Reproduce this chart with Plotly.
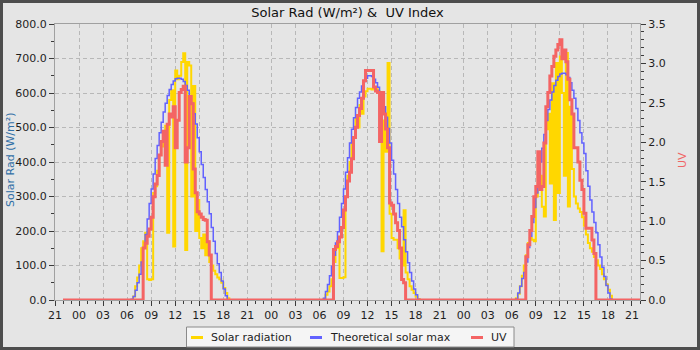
import pandas as pd
import plotly.graph_objects as go

# ---------------------------------------------------------------------------
# Data: three days of 15-minute readings, daylight window 06:00-18:45.
# Night-time readings are zero.
# ---------------------------------------------------------------------------
DAYS = ["2024-03-12", "2024-03-13", "2024-03-14"]
DAYLIGHT_START = "06:00"
SLOT = "15min"
SERIES_START = "2024-03-11 22:00"
SERIES_END = "2024-03-14 22:00"
AXIS_START = "2024-03-11 21:00"
AXIS_END = "2024-03-14 22:00"

# Solar radiation (W/m²)
solar_day1 = [0, 0, 0, 10, 40, 65, 100, 150, 170, 195,
              60, 58, 60, 310, 330, 375, 420, 445, 475, 505,
              195, 580, 608, 155, 665, 640, 650, 690, 715, 145,
              690, 680, 300, 620, 200, 290, 180, 150, 190, 130,
              170, 110, 100, 85, 75, 65, 60, 50, 35, 20,
              5, 0]
solar_day2 = [0, 0, 3, 15, 25, 40, 60, 110, 150, 165,
              64, 64, 66, 300, 360, 400, 455, 470, 525, 500,
              565, 540, 590, 605, 612, 612, 610, 612, 612, 605,
              590, 141, 520, 430, 687, 250, 180, 175, 175, 150,
              120, 100, 260, 80, 60, 40, 30, 20, 10, 3,
              0, 0]
solar_day3 = [0, 0, 5, 18, 40, 70, 100, 130, 165, 180,
              175, 170, 300, 400, 360, 270, 242, 495, 540, 338,
              628, 232, 687, 310, 706, 600, 360, 716, 271, 560,
              380, 300, 280, 265, 255, 240, 215, 190, 165, 150,
              140, 125, 115, 100, 90, 75, 60, 45, 30, 12,
              0, 0]

# Theoretical clear-sky maximum (W/m²)
theory_day1 = [0, 0, 2, 10, 28, 50, 75, 110, 150, 190,
               235, 280, 322, 365, 410, 448, 485, 515, 545, 570,
               593, 610, 625, 635, 641, 643, 643, 640, 633, 622,
               608, 592, 570, 540, 510, 470, 430, 393, 355, 320,
               285, 250, 210, 170, 135, 105, 80, 55, 32, 12,
               0, 0]
theory_day2 = [0, 0, 5, 25, 45, 70, 98, 130, 165, 198,
               240, 280, 322, 370, 412, 455, 495, 528, 558, 585,
               603, 620, 633, 643, 650, 650, 648, 640, 630, 617,
               603, 585, 560, 530, 497, 455, 405, 365, 320, 280,
               240, 212, 175, 140, 108, 80, 55, 32, 15, 2,
               0, 0]
theory_day3 = [0, 0, 3, 20, 40, 62, 80, 110, 152, 185,
               225, 268, 310, 360, 400, 440, 480, 520, 552, 580,
               603, 622, 637, 648, 655, 657, 657, 653, 645, 630,
               608, 585, 555, 520, 485, 455, 425, 375, 330, 290,
               255, 225, 195, 160, 125, 95, 68, 42, 20, 3,
               0, 0]

# UV index
uv_day1 = [0, 0, 0, 0, 0, 0, 0, 0, 0.66, 0.72,
           0.81, 0.90, 1.05, 1.31, 1.47, 1.58, 1.84, 2.01, 2.14, 1.71,
           2.23, 2.36, 2.32, 2.45, 1.93, 2.28, 2.63, 2.67, 2.71, 1.75,
           1.93, 2.58, 2.49, 1.66, 1.36, 1.12, 1.09, 1.05, 1.02, 1.01,
           0.74, 0.57, 0, 0, 0, 0, 0, 0, 0, 0,
           0, 0]
uv_day2 = [0, 0, 0, 0, 0, 0, 0, 0.64, 0.68, 0.74,
           0.80, 0.92, 1.14, 1.31, 1.51, 1.62, 1.79, 2.06, 2.19, 2.34,
           2.43, 2.56, 2.78, 2.91, 2.91, 2.91, 2.91, 2.70, 2.65, 2.63,
           2.01, 2.63, 2.36, 2.17, 1.93, 1.23, 1.20, 1.09, 0.98, 0.88,
           0.66, 0.26, 0.22, 0, 0, 0, 0, 0, 0, 0,
           0, 0]
uv_day3 = [0, 0, 0, 0, 0, 0, 0, 0.55, 0.70, 0.88,
           1.06, 1.31, 1.44, 1.88, 1.40, 1.44, 1.99, 2.45, 2.63, 2.84,
           2.96, 3.09, 3.17, 3.24, 3.30, 3.06, 3.17, 3.02, 2.80, 2.54,
           2.36, 1.93, 1.93, 1.75, 1.52, 1.40, 1.10, 0.91, 0.91, 0.91,
           0.76, 0.59, 0, 0, 0, 0, 0, 0, 0, 0,
           0, 0]

SERIES_NAMES = ["Solar radiation", "Theoretical solar max", "UV"]
TITLE = "Solar Rad (W/m²) &\u00a0 UV Index"
LEFT_TITLE = "Solar Rad (W/m²)"
RIGHT_TITLE = "UV"

YELLOW = "#ffd700"
BLUE = "#6262ff"
RED = "#f46464"
BG = "#e5e5e5"

# ---------------------------------------------------------------------------
times = pd.date_range(SERIES_START, SERIES_END, freq=SLOT)
slot = pd.Timedelta(SLOT)


def full_series(day_arrays):
    """Spread the per-day daylight readings over the full time range."""
    out = []
    for t in times:
        v = 0.0
        for day, arr in zip(DAYS, day_arrays):
            start = pd.Timestamp(day) + pd.Timedelta(DAYLIGHT_START + ":00")
            if t >= start:
                k = int((t - start) / slot)
                if k < len(arr):
                    v = arr[k]
        out.append(v)
    return out


solar = full_series([solar_day1, solar_day2, solar_day3])
theory = full_series([theory_day1, theory_day2, theory_day3])
uv = full_series([uv_day1, uv_day2, uv_day3])

fig = go.Figure()
fig.add_trace(go.Scatter(x=times, y=solar, mode="lines", name=SERIES_NAMES[0],
                         line=dict(color=YELLOW, width=2, shape="hv"),
                         showlegend=False))
fig.add_trace(go.Scatter(x=times, y=theory, mode="lines", name=SERIES_NAMES[1],
                         line=dict(color=BLUE, width=1.5, shape="hv"),
                         showlegend=False))
fig.add_trace(go.Scatter(x=times, y=uv, mode="lines", name=SERIES_NAMES[2],
                         yaxis="y2",
                         line=dict(color=RED, width=3, shape="hv"),
                         showlegend=False))

# figure geometry (pixels)
W, H = 700, 350
ML, MR, MT, MB = 55, 60, 24, 50
PW, PH = W - ML - MR, H - MT - MB


def px(x):
    return (x - ML) / PW


def py(y):
    return (H - MB - y) / PH


tick_col = "#3a3a3a"
line_col = "#a0a0a0"
grid_col = "#b8b8b8"

fig.update_layout(
    width=W, height=H,
    margin=dict(l=ML, r=MR, t=MT, b=MB, pad=0),
    paper_bgcolor=BG, plot_bgcolor=BG,
    font=dict(family="DejaVu Sans", size=11, color="#1e1e1e"),
    title=dict(text=TITLE, x=0.5, xanchor="center", xref="paper",
               y=1 - 12 / H, yanchor="middle",
               font=dict(size=13, color="#111111")),
    xaxis=dict(
        type="date", range=[AXIS_START, AXIS_END],
        tick0=AXIS_START, dtick=3 * 3600 * 1000, tickformat="%H",
        ticks="outside", ticklen=5, tickcolor=tick_col,
        showline=True, linecolor=line_col, mirror=True,
        showgrid=True, gridcolor=grid_col, griddash="4px,3px", gridwidth=1,
        zeroline=False,
        minor=dict(dtick=3600 * 1000, ticks="outside", ticklen=3,
                   tickcolor=tick_col, showgrid=False),
    ),
    yaxis=dict(
        range=[0, 800], dtick=100, tick0=0, tickformat=".1f",
        ticks="outside", ticklen=5, tickcolor=tick_col,
        showline=True, linecolor=line_col, mirror=True,
        showgrid=True, gridcolor=grid_col, griddash="4px,3px", gridwidth=1,
        zeroline=False,
        minor=dict(dtick=50, ticks="outside", ticklen=3,
                   tickcolor=tick_col, showgrid=False),
    ),
    yaxis2=dict(
        overlaying="y", side="right", range=[0, 3.5], dtick=0.5, tick0=0,
        tickformat=".1f", ticks="outside", ticklen=5, tickcolor=tick_col,
        showline=True, linecolor=line_col, showgrid=False, zeroline=False,
        minor=dict(dtick=0.1, ticks="outside", ticklen=3,
                   tickcolor=tick_col, showgrid=False),
    ),
)

shapes = [
    # outer frame
    dict(type="rect", xref="paper", yref="paper",
         x0=px(1.5), x1=px(W - 1.5), y0=py(H - 1.5), y1=py(1.5),
         line=dict(color="#4d4d4d", width=3), layer="above"),
    # legend box
    dict(type="rect", xref="paper", yref="paper",
         x0=px(186.5), x1=px(514), y0=py(347), y1=py(327),
         fillcolor="#f5f5f5", line=dict(color="#8a8a8a", width=1),
         layer="above"),
]
annotations = [
    dict(text=LEFT_TITLE, xref="paper", yref="paper", x=px(10), y=py(160),
         textangle=-90, showarrow=False, xanchor="center", yanchor="middle",
         font=dict(size=11, color="#2f6ea5")),
    dict(text=RIGHT_TITLE, xref="paper", yref="paper", x=px(682), y=py(160),
         textangle=-90, showarrow=False, xanchor="center", yanchor="middle",
         font=dict(size=11, color="#f06464")),
]

legend_items = [(191, 211, YELLOW), (310, 330, BLUE), (471, 491, RED)]
for (sx, tx, col), name in zip(legend_items, SERIES_NAMES):
    shapes.append(dict(type="line", xref="paper", yref="paper",
                       x0=px(sx), x1=px(sx + 12), y0=py(337.5), y1=py(337.5),
                       line=dict(color=col, width=3), layer="above"))
    annotations.append(dict(text=name, xref="paper", yref="paper",
                            x=px(tx - 2), y=py(337), xanchor="left",
                            yanchor="middle", showarrow=False,
                            font=dict(size=11, color="#1e1e1e")))

fig.update_layout(shapes=shapes, annotations=annotations)

fig.write_html("out.html")
